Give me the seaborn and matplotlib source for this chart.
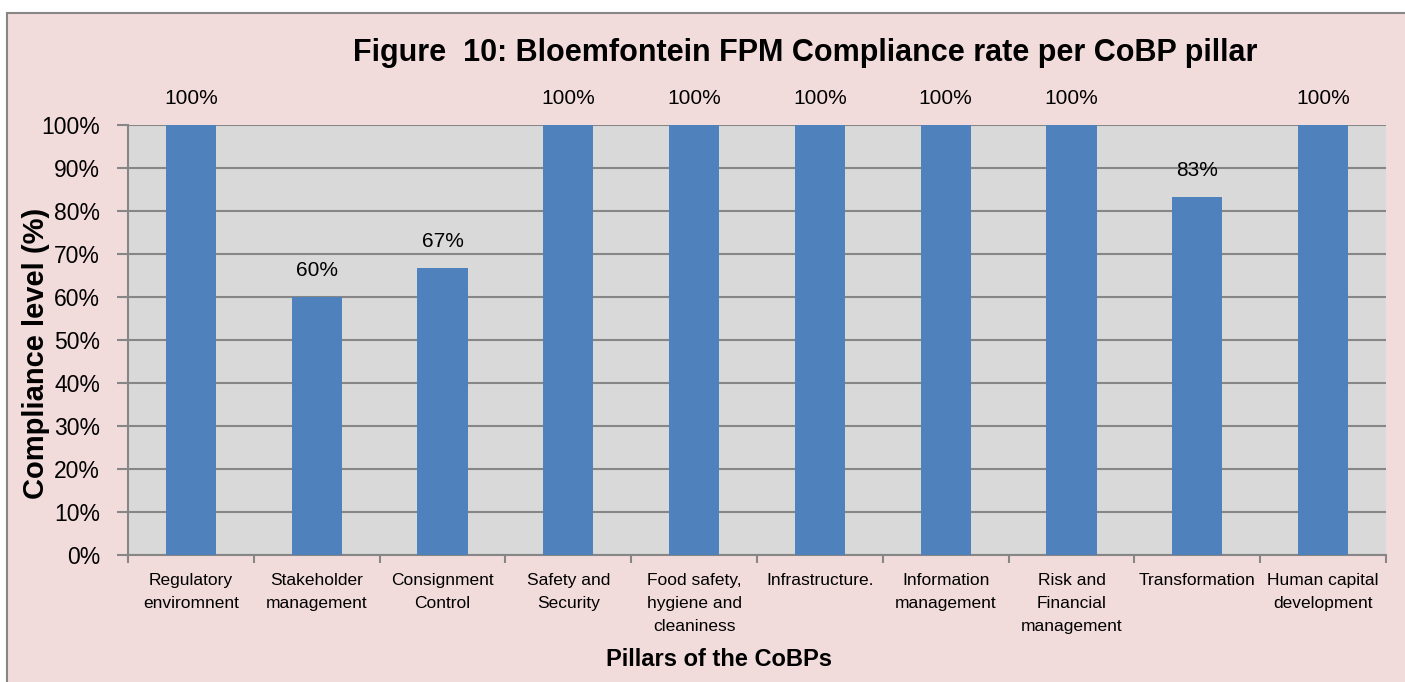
import pandas as pd
import matplotlib.pyplot as plt
import matplotlib.patches as mpatches
import seaborn as sns

# --- data ---
pillars = [
    "Regulatory\nenviromnent",
    "Stakeholder\nmanagement",
    "Consignment\nControl",
    "Safety and\nSecurity",
    "Food safety,\nhygiene and\ncleaniness",
    "Infrastructure.",
    "Information\nmanagement",
    "Risk and\nFinancial\nmanagement",
    "Transformation",
    "Human capital\ndevelopment",
]
compliance = [100, 60, 66.7, 100, 100, 100, 100, 100, 83.3, 100]
y_ticks = [0, 10, 20, 30, 40, 50, 60, 70, 80, 90, 100]

df = pd.DataFrame({"pillar": pillars, "compliance": compliance})

sns.set_style("white")
plt.rcParams["font.family"] = ["Liberation Sans", "DejaVu Sans"]
plt.rcParams["text.color"] = "black"
plt.rcParams["axes.labelcolor"] = "black"

fig = plt.figure(figsize=(14.05, 6.82), dpi=100, facecolor="white")
# pink chart area with grey border
bg = mpatches.Rectangle((7 / 1405, -0.05), 1.1, 1.05 - 13 / 682,
                        transform=fig.transFigure, facecolor="#F2DCDB",
                        edgecolor="#868686", linewidth=1.5, zorder=-10)
fig.patches.append(bg)

ax = fig.add_axes([128 / 1405, 1 - 555 / 682, (1386 - 128) / 1405, (555 - 125) / 682])
ax.set_facecolor("#D9D9D9")

sns.barplot(data=df, x="pillar", y="compliance", color="#4F81BD",
            width=0.4, saturation=1, linewidth=0, ax=ax, zorder=3)

for i, v in enumerate(compliance):
    ax.text(i, v + 4, f"{v:.0f}%", ha="center", va="bottom",
            fontsize=15, color="black", clip_on=False)

ax.set_ylim(0, 100)
ax.set_xlim(-0.5, len(pillars) - 0.5)
ax.set_yticks(y_ticks)
ax.set_yticklabels([f"{t}%" for t in y_ticks], fontsize=16.5)
ax.yaxis.grid(True, color="#868686", linewidth=1.5, zorder=0)
ax.set_axisbelow(True)

ax.set_xticks(range(len(pillars)))
ax.set_xticklabels(pillars, fontsize=12.5, linespacing=1.65, va="top")
ax.set_xticks([i - 0.5 for i in range(len(pillars) + 1)], minor=True)
ax.tick_params(axis="x", which="major", bottom=True, length=0, pad=13, labelcolor="black")
ax.tick_params(axis="x", which="minor", bottom=True, length=6, width=1.5,
               color="#868686", direction="out")
ax.tick_params(axis="y", left=True, length=8, width=1.5, color="#868686",
               direction="out", pad=12, labelcolor="black")

for side in ["top", "right"]:
    ax.spines[side].set_visible(False)
for side in ["left", "bottom"]:
    ax.spines[side].set_color("#868686")
    ax.spines[side].set_linewidth(1.5)

ax.set_xlabel("Pillars of the CoBPs", fontsize=17, fontweight="bold")
ax.xaxis.set_label_coords((719 - 128) / (1386 - 128), -(660 - 555) / 430, transform=ax.transAxes)
ax.xaxis.label.set_va("center")
ax.set_ylabel("Compliance level (%)", fontsize=21, fontweight="bold")
ax.yaxis.set_label_coords(-(128 - 36) / (1386 - 128), (555 - 353) / 430, transform=ax.transAxes)
ax.yaxis.label.set_va("center")

fig.text(805 / 1405, 1 - 53 / 682, "Figure  10: Bloemfontein FPM Compliance rate per CoBP pillar",
         ha="center", va="center", fontsize=22, fontweight="bold")

fig.savefig("out.png", dpi=100, facecolor=fig.get_facecolor())
